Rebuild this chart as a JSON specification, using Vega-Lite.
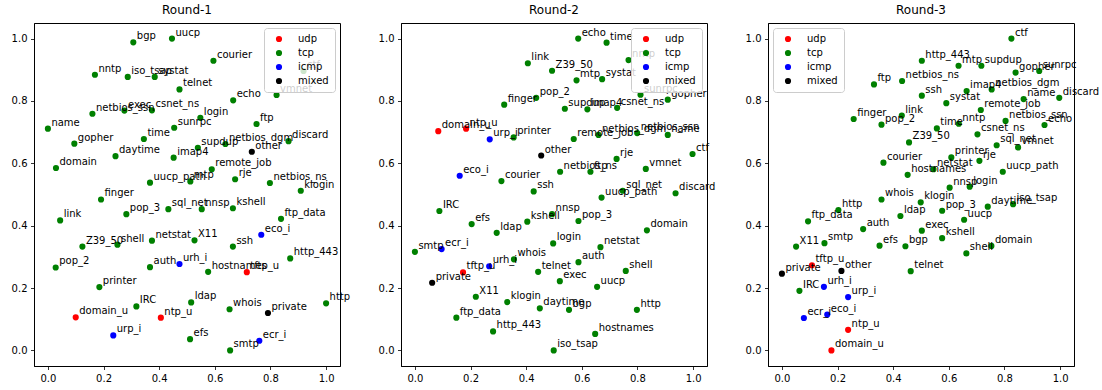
{
  "$schema": "https://vega.github.io/schema/vega-lite/v6.json",
  "padding": {"left": 10, "top": 3, "right": 0, "bottom": 0},
  "config": {
    "font": "DejaVu Sans",
    "view": {"stroke": "black", "strokeWidth": 1},
    "axis": {"grid": false, "domain": true, "domainColor": "black", "domainWidth": 1, "labelFont": "DejaVu Sans", "labelFontSize": 10, "labelColor": "black", "tickColor": "black", "tickSize": 3.5, "tickWidth": 0.8, "labelPadding": 3.5, "title": null},
    "title": {"font": "DejaVu Sans", "fontSize": 12, "fontWeight": "normal", "color": "black", "offset": 6, "anchor": "middle"},
    "legend": {"title": null, "labelFont": "DejaVu Sans", "labelFontSize": 10, "labelColor": "black", "fillColor": "rgba(255,255,255,0.8)", "strokeColor": "#cccccc", "cornerRadius": 3, "padding": 6, "offset": 5, "symbolType": "circle", "symbolSize": 38, "symbolStrokeWidth": 0, "symbolOpacity": 1, "rowPadding": 4, "labelOffset": 14, "symbolOffset": 4, "zindex": 1}
  },
  "data": {"values": [
    {"r":1,"s":"bgp","t":"tcp","x":0.307,"y":0.988},
    {"r":1,"s":"uucp","t":"tcp","x":0.446,"y":1.0},
    {"r":1,"s":"nntp","t":"tcp","x":0.169,"y":0.884},
    {"r":1,"s":"iso_tsap","t":"tcp","x":0.287,"y":0.877},
    {"r":1,"s":"systat","t":"tcp","x":0.384,"y":0.877},
    {"r":1,"s":"telnet","t":"tcp","x":0.473,"y":0.837},
    {"r":1,"s":"netbios_ssn","t":"tcp","x":0.160,"y":0.759},
    {"r":1,"s":"exec","t":"tcp","x":0.275,"y":0.769},
    {"r":1,"s":"csnet_ns","t":"tcp","x":0.374,"y":0.770},
    {"r":1,"s":"name","t":"tcp","x":0.0,"y":0.711},
    {"r":1,"s":"gopher","t":"tcp","x":0.095,"y":0.663},
    {"r":1,"s":"time","t":"tcp","x":0.345,"y":0.678},
    {"r":1,"s":"sunrpc","t":"tcp","x":0.454,"y":0.714},
    {"r":1,"s":"daytime","t":"tcp","x":0.243,"y":0.623},
    {"r":1,"s":"imap4","t":"tcp","x":0.452,"y":0.618},
    {"r":1,"s":"domain","t":"tcp","x":0.029,"y":0.585},
    {"r":1,"s":"uucp_path","t":"tcp","x":0.367,"y":0.538},
    {"r":1,"s":"finger","t":"tcp","x":0.191,"y":0.484},
    {"r":1,"s":"courier","t":"tcp","x":0.595,"y":0.929},
    {"r":1,"s":"ctf","t":"tcp","x":0.919,"y":0.896},
    {"r":1,"s":"echo","t":"tcp","x":0.666,"y":0.802},
    {"r":1,"s":"vmnet","t":"tcp","x":0.822,"y":0.819},
    {"r":1,"s":"login","t":"tcp","x":0.548,"y":0.746},
    {"r":1,"s":"ftp","t":"tcp","x":0.750,"y":0.726},
    {"r":1,"s":"supdup","t":"tcp","x":0.539,"y":0.650},
    {"r":1,"s":"netbios_dgm","t":"tcp","x":0.638,"y":0.662},
    {"r":1,"s":"discard","t":"tcp","x":0.865,"y":0.671},
    {"r":1,"s":"other","t":"mixed","x":0.733,"y":0.637},
    {"r":1,"s":"remote_job","t":"tcp","x":0.589,"y":0.581},
    {"r":1,"s":"mtp","t":"tcp","x":0.512,"y":0.542},
    {"r":1,"s":"rje","t":"tcp","x":0.673,"y":0.549},
    {"r":1,"s":"netbios_ns","t":"tcp","x":0.798,"y":0.537},
    {"r":1,"s":"klogin","t":"tcp","x":0.909,"y":0.512},
    {"r":1,"s":"link","t":"tcp","x":0.044,"y":0.417},
    {"r":1,"s":"pop_3","t":"tcp","x":0.282,"y":0.437},
    {"r":1,"s":"sql_net","t":"tcp","x":0.433,"y":0.453},
    {"r":1,"s":"Z39_50","t":"tcp","x":0.124,"y":0.333},
    {"r":1,"s":"shell","t":"tcp","x":0.250,"y":0.339},
    {"r":1,"s":"netstat","t":"tcp","x":0.374,"y":0.352},
    {"r":1,"s":"pop_2","t":"tcp","x":0.028,"y":0.266},
    {"r":1,"s":"auth","t":"tcp","x":0.367,"y":0.267},
    {"r":1,"s":"urh_i","t":"icmp","x":0.473,"y":0.277},
    {"r":1,"s":"printer","t":"tcp","x":0.185,"y":0.203},
    {"r":1,"s":"IRC","t":"tcp","x":0.318,"y":0.141},
    {"r":1,"s":"domain_u","t":"udp","x":0.100,"y":0.106},
    {"r":1,"s":"ntp_u","t":"udp","x":0.406,"y":0.105},
    {"r":1,"s":"urp_i","t":"icmp","x":0.235,"y":0.048},
    {"r":1,"s":"nnsp","t":"tcp","x":0.553,"y":0.453},
    {"r":1,"s":"kshell","t":"tcp","x":0.665,"y":0.456},
    {"r":1,"s":"ftp_data","t":"tcp","x":0.838,"y":0.422},
    {"r":1,"s":"X11","t":"tcp","x":0.527,"y":0.353},
    {"r":1,"s":"eco_i","t":"icmp","x":0.767,"y":0.371},
    {"r":1,"s":"ssh","t":"tcp","x":0.665,"y":0.333},
    {"r":1,"s":"http_443","t":"tcp","x":0.871,"y":0.295},
    {"r":1,"s":"hostnames","t":"tcp","x":0.576,"y":0.252},
    {"r":1,"s":"tftp_u","t":"udp","x":0.715,"y":0.251},
    {"r":1,"s":"ldap","t":"tcp","x":0.515,"y":0.154},
    {"r":1,"s":"whois","t":"tcp","x":0.653,"y":0.132},
    {"r":1,"s":"private","t":"mixed","x":0.791,"y":0.120},
    {"r":1,"s":"http","t":"tcp","x":1.0,"y":0.151},
    {"r":1,"s":"efs","t":"tcp","x":0.511,"y":0.036},
    {"r":1,"s":"ecr_i","t":"icmp","x":0.760,"y":0.031},
    {"r":1,"s":"smtp","t":"tcp","x":0.655,"y":0.0},

    {"r":2,"s":"link","t":"tcp","x":0.406,"y":0.921},
    {"r":2,"s":"Z39_50","t":"tcp","x":0.493,"y":0.897},
    {"r":2,"s":"finger","t":"tcp","x":0.321,"y":0.788},
    {"r":2,"s":"pop_2","t":"tcp","x":0.436,"y":0.810},
    {"r":2,"s":"domain_u","t":"udp","x":0.084,"y":0.703},
    {"r":2,"s":"ntp_u","t":"udp","x":0.184,"y":0.711},
    {"r":2,"s":"urp_i","t":"icmp","x":0.269,"y":0.677},
    {"r":2,"s":"printer","t":"tcp","x":0.355,"y":0.683},
    {"r":2,"s":"other","t":"mixed","x":0.454,"y":0.625},
    {"r":2,"s":"eco_i","t":"icmp","x":0.161,"y":0.560},
    {"r":2,"s":"courier","t":"tcp","x":0.311,"y":0.543},
    {"r":2,"s":"ssh","t":"tcp","x":0.427,"y":0.510},
    {"r":2,"s":"echo","t":"tcp","x":0.587,"y":1.0},
    {"r":2,"s":"time","t":"tcp","x":0.689,"y":0.987},
    {"r":2,"s":"nntp","t":"tcp","x":0.768,"y":0.931},
    {"r":2,"s":"mtp","t":"tcp","x":0.581,"y":0.866},
    {"r":2,"s":"systat","t":"tcp","x":0.673,"y":0.870},
    {"r":2,"s":"sunrpc","t":"tcp","x":0.811,"y":0.820},
    {"r":2,"s":"gopher","t":"tcp","x":0.909,"y":0.804},
    {"r":2,"s":"supdup","t":"tcp","x":0.539,"y":0.775},
    {"r":2,"s":"imap4","t":"tcp","x":0.620,"y":0.773},
    {"r":2,"s":"csnet_ns","t":"tcp","x":0.727,"y":0.778},
    {"r":2,"s":"remote_job","t":"tcp","x":0.571,"y":0.678},
    {"r":2,"s":"netbios_dgm","t":"tcp","x":0.660,"y":0.691},
    {"r":2,"s":"netbios_ssn","t":"tcp","x":0.799,"y":0.697},
    {"r":2,"s":"name","t":"tcp","x":0.909,"y":0.691},
    {"r":2,"s":"ctf","t":"tcp","x":0.998,"y":0.630},
    {"r":2,"s":"rje","t":"tcp","x":0.725,"y":0.614},
    {"r":2,"s":"vmnet","t":"tcp","x":0.830,"y":0.582},
    {"r":2,"s":"netbios_ns","t":"tcp","x":0.522,"y":0.573},
    {"r":2,"s":"ftp","t":"tcp","x":0.631,"y":0.573},
    {"r":2,"s":"sql_net","t":"tcp","x":0.747,"y":0.512},
    {"r":2,"s":"uucp_path","t":"tcp","x":0.671,"y":0.490},
    {"r":2,"s":"discard","t":"tcp","x":0.937,"y":0.504},
    {"r":2,"s":"IRC","t":"tcp","x":0.088,"y":0.447},
    {"r":2,"s":"efs","t":"tcp","x":0.204,"y":0.405},
    {"r":2,"s":"kshell","t":"tcp","x":0.404,"y":0.413},
    {"r":2,"s":"ldap","t":"tcp","x":0.294,"y":0.377},
    {"r":2,"s":"smtp","t":"tcp","x":0.0,"y":0.316},
    {"r":2,"s":"ecr_i","t":"icmp","x":0.096,"y":0.325},
    {"r":2,"s":"urh_i","t":"icmp","x":0.267,"y":0.270},
    {"r":2,"s":"whois","t":"tcp","x":0.356,"y":0.292},
    {"r":2,"s":"tftp_u","t":"udp","x":0.173,"y":0.250},
    {"r":2,"s":"private","t":"mixed","x":0.062,"y":0.217},
    {"r":2,"s":"telnet","t":"tcp","x":0.443,"y":0.252},
    {"r":2,"s":"X11","t":"tcp","x":0.219,"y":0.172},
    {"r":2,"s":"klogin","t":"tcp","x":0.332,"y":0.155},
    {"r":2,"s":"daytime","t":"tcp","x":0.449,"y":0.135},
    {"r":2,"s":"ftp_data","t":"tcp","x":0.149,"y":0.105},
    {"r":2,"s":"http_443","t":"tcp","x":0.281,"y":0.061},
    {"r":2,"s":"login","t":"tcp","x":0.497,"y":0.343},
    {"r":2,"s":"iso_tsap","t":"tcp","x":0.499,"y":0.0},
    {"r":2,"s":"nnsp","t":"tcp","x":0.493,"y":0.437},
    {"r":2,"s":"pop_3","t":"tcp","x":0.588,"y":0.415},
    {"r":2,"s":"domain","t":"tcp","x":0.834,"y":0.385},
    {"r":2,"s":"netstat","t":"tcp","x":0.667,"y":0.331},
    {"r":2,"s":"auth","t":"tcp","x":0.588,"y":0.283},
    {"r":2,"s":"shell","t":"tcp","x":0.758,"y":0.255},
    {"r":2,"s":"exec","t":"tcp","x":0.521,"y":0.222},
    {"r":2,"s":"uucp","t":"tcp","x":0.655,"y":0.204},
    {"r":2,"s":"bgp","t":"tcp","x":0.554,"y":0.130},
    {"r":2,"s":"http","t":"tcp","x":0.798,"y":0.130},
    {"r":2,"s":"hostnames","t":"tcp","x":0.648,"y":0.053},

    {"r":3,"s":"http_443","t":"tcp","x":0.503,"y":0.929},
    {"r":3,"s":"ftp","t":"tcp","x":0.331,"y":0.853},
    {"r":3,"s":"netbios_ns","t":"tcp","x":0.432,"y":0.864},
    {"r":3,"s":"ssh","t":"tcp","x":0.503,"y":0.817},
    {"r":3,"s":"finger","t":"tcp","x":0.258,"y":0.742},
    {"r":3,"s":"link","t":"tcp","x":0.431,"y":0.753},
    {"r":3,"s":"pop_2","t":"tcp","x":0.358,"y":0.724},
    {"r":3,"s":"Z39_50","t":"tcp","x":0.457,"y":0.667},
    {"r":3,"s":"courier","t":"tcp","x":0.365,"y":0.602},
    {"r":3,"s":"hostnames","t":"tcp","x":0.452,"y":0.563},
    {"r":3,"s":"whois","t":"tcp","x":0.358,"y":0.484},
    {"r":3,"s":"ctf","t":"tcp","x":0.825,"y":1.0},
    {"r":3,"s":"mtp","t":"tcp","x":0.635,"y":0.913},
    {"r":3,"s":"supdup","t":"tcp","x":0.717,"y":0.913},
    {"r":3,"s":"gopher","t":"tcp","x":0.840,"y":0.891},
    {"r":3,"s":"sunrpc","t":"tcp","x":0.925,"y":0.896},
    {"r":3,"s":"imap4","t":"tcp","x":0.664,"y":0.832},
    {"r":3,"s":"netbios_dgm","t":"tcp","x":0.754,"y":0.837},
    {"r":3,"s":"systat","t":"tcp","x":0.591,"y":0.793},
    {"r":3,"s":"name","t":"tcp","x":0.869,"y":0.806},
    {"r":3,"s":"discard","t":"tcp","x":0.997,"y":0.810},
    {"r":3,"s":"remote_job","t":"tcp","x":0.715,"y":0.771},
    {"r":3,"s":"nntp","t":"tcp","x":0.636,"y":0.727},
    {"r":3,"s":"time","t":"tcp","x":0.557,"y":0.712},
    {"r":3,"s":"netbios_ssn","t":"tcp","x":0.804,"y":0.736},
    {"r":3,"s":"echo","t":"tcp","x":0.944,"y":0.723},
    {"r":3,"s":"csnet_ns","t":"tcp","x":0.703,"y":0.693},
    {"r":3,"s":"sql_net","t":"tcp","x":0.772,"y":0.658},
    {"r":3,"s":"vmnet","t":"tcp","x":0.849,"y":0.651},
    {"r":3,"s":"printer","t":"tcp","x":0.609,"y":0.619},
    {"r":3,"s":"rje","t":"tcp","x":0.710,"y":0.608},
    {"r":3,"s":"netstat","t":"tcp","x":0.545,"y":0.581},
    {"r":3,"s":"uucp_path","t":"tcp","x":0.794,"y":0.573},
    {"r":3,"s":"nnsp","t":"tcp","x":0.603,"y":0.522},
    {"r":3,"s":"login","t":"tcp","x":0.675,"y":0.525},
    {"r":3,"s":"klogin","t":"tcp","x":0.499,"y":0.475},
    {"r":3,"s":"http","t":"tcp","x":0.203,"y":0.450},
    {"r":3,"s":"ftp_data","t":"tcp","x":0.094,"y":0.414},
    {"r":3,"s":"ldap","t":"tcp","x":0.426,"y":0.431},
    {"r":3,"s":"auth","t":"tcp","x":0.292,"y":0.389},
    {"r":3,"s":"exec","t":"tcp","x":0.503,"y":0.384},
    {"r":3,"s":"X11","t":"tcp","x":0.051,"y":0.333},
    {"r":3,"s":"smtp","t":"tcp","x":0.153,"y":0.344},
    {"r":3,"s":"efs","t":"tcp","x":0.351,"y":0.336},
    {"r":3,"s":"bgp","t":"tcp","x":0.444,"y":0.334},
    {"r":3,"s":"tftp_u","t":"udp","x":0.108,"y":0.273},
    {"r":3,"s":"other","t":"mixed","x":0.214,"y":0.255},
    {"r":3,"s":"private","t":"mixed","x":0.0,"y":0.246},
    {"r":3,"s":"telnet","t":"tcp","x":0.463,"y":0.254},
    {"r":3,"s":"IRC","t":"tcp","x":0.063,"y":0.191},
    {"r":3,"s":"urh_i","t":"icmp","x":0.151,"y":0.204},
    {"r":3,"s":"urp_i","t":"icmp","x":0.238,"y":0.171},
    {"r":3,"s":"ecr_i","t":"icmp","x":0.079,"y":0.104},
    {"r":3,"s":"eco_i","t":"icmp","x":0.163,"y":0.115},
    {"r":3,"s":"ntp_u","t":"udp","x":0.238,"y":0.066},
    {"r":3,"s":"domain_u","t":"udp","x":0.178,"y":0.0},
    {"r":3,"s":"pop_3","t":"tcp","x":0.576,"y":0.448},
    {"r":3,"s":"daytime","t":"tcp","x":0.740,"y":0.461},
    {"r":3,"s":"iso_tsap","t":"tcp","x":0.831,"y":0.469},
    {"r":3,"s":"uucp","t":"tcp","x":0.655,"y":0.419},
    {"r":3,"s":"kshell","t":"tcp","x":0.576,"y":0.360},
    {"r":3,"s":"shell","t":"tcp","x":0.663,"y":0.311},
    {"r":3,"s":"domain","t":"tcp","x":0.753,"y":0.335}
  ]},
  "spacing": 61,
  "bounds": "flush",
  "resolve": {"legend": {"color": "independent"}},
  "hconcat": [
    {
      "width": 306, "height": 343,
      "title": "Round-1",
      "transform": [{"filter": "datum.r == 1"}],
      "encoding": {
        "x": {"field": "x", "type": "quantitative", "scale": {"domain": [-0.05, 1.05], "nice": false, "zero": false}, "axis": {"values": [0, 0.2, 0.4, 0.6, 0.8, 1.0], "format": ".1f"}},
        "y": {"field": "y", "type": "quantitative", "scale": {"domain": [-0.05, 1.05], "nice": false, "zero": false}, "axis": {"values": [0, 0.2, 0.4, 0.6, 0.8, 1.0], "format": ".1f"}}
      },
      "layer": [
        {"mark": {"type": "circle", "size": 38, "opacity": 1},
         "encoding": {"color": {"field": "t", "type": "nominal", "scale": {"domain": ["udp", "tcp", "icmp", "mixed"], "range": ["#ff0000", "#008000", "#0000ff", "#000000"]}, "legend": {"orient": "top-right"}}}},
        {"mark": {"type": "text", "align": "left", "baseline": "alphabetic", "dx": 3.5, "dy": -3, "fontSize": 10, "font": "DejaVu Sans", "color": "black"},
         "encoding": {"text": {"field": "s"}}}
      ]
    },
    {
      "width": 306, "height": 343,
      "title": "Round-2",
      "transform": [{"filter": "datum.r == 2"}],
      "encoding": {
        "x": {"field": "x", "type": "quantitative", "scale": {"domain": [-0.05, 1.05], "nice": false, "zero": false}, "axis": {"values": [0, 0.2, 0.4, 0.6, 0.8, 1.0], "format": ".1f"}},
        "y": {"field": "y", "type": "quantitative", "scale": {"domain": [-0.05, 1.05], "nice": false, "zero": false}, "axis": {"values": [0, 0.2, 0.4, 0.6, 0.8, 1.0], "format": ".1f"}}
      },
      "layer": [
        {"mark": {"type": "circle", "size": 38, "opacity": 1},
         "encoding": {"color": {"field": "t", "type": "nominal", "scale": {"domain": ["udp", "tcp", "icmp", "mixed"], "range": ["#ff0000", "#008000", "#0000ff", "#000000"]}, "legend": {"orient": "top-right"}}}},
        {"mark": {"type": "text", "align": "left", "baseline": "alphabetic", "dx": 3.5, "dy": -3, "fontSize": 10, "font": "DejaVu Sans", "color": "black"},
         "encoding": {"text": {"field": "s"}}}
      ]
    },
    {
      "width": 306, "height": 343,
      "title": "Round-3",
      "transform": [{"filter": "datum.r == 3"}],
      "encoding": {
        "x": {"field": "x", "type": "quantitative", "scale": {"domain": [-0.05, 1.05], "nice": false, "zero": false}, "axis": {"values": [0, 0.2, 0.4, 0.6, 0.8, 1.0], "format": ".1f"}},
        "y": {"field": "y", "type": "quantitative", "scale": {"domain": [-0.05, 1.05], "nice": false, "zero": false}, "axis": {"values": [0, 0.2, 0.4, 0.6, 0.8, 1.0], "format": ".1f"}}
      },
      "layer": [
        {"mark": {"type": "circle", "size": 38, "opacity": 1},
         "encoding": {"color": {"field": "t", "type": "nominal", "scale": {"domain": ["udp", "tcp", "icmp", "mixed"], "range": ["#ff0000", "#008000", "#0000ff", "#000000"]}, "legend": {"orient": "top-left"}}}},
        {"mark": {"type": "text", "align": "left", "baseline": "alphabetic", "dx": 3.5, "dy": -3, "fontSize": 10, "font": "DejaVu Sans", "color": "black"},
         "encoding": {"text": {"field": "s"}}}
      ]
    }
  ]
}
